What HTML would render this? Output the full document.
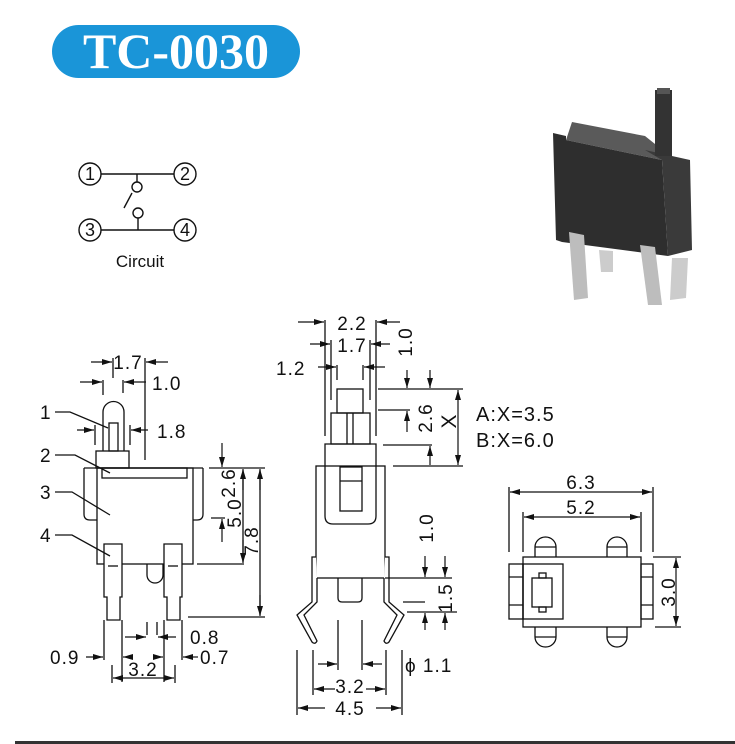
<!DOCTYPE html>
<html><head><meta charset="utf-8"><style>
html,body{margin:0;padding:0;background:#fff;}
svg{display:block;}
text{font-family:"Liberation Sans",sans-serif;fill:#111;}
</style></head><body>
<svg width="735" height="744" viewBox="0 0 735 744" xmlns="http://www.w3.org/2000/svg">
<defs>
<marker id="a" viewBox="0 0 10 6" refX="10" refY="3" markerWidth="10" markerHeight="6" orient="auto" markerUnits="userSpaceOnUse"><path d="M0,0 L10,3 L0,6 z" fill="#111"/></marker>
</defs>
<!-- header -->
<rect x="52" y="25" width="248" height="53" rx="26.5" fill="#1a95d8"/>
<text x="176" y="68" text-anchor="middle" style="font-family:'Liberation Serif',serif;font-weight:bold;font-size:50px;fill:#fff">TC-0030</text>

<!-- circuit -->
<g stroke="#111" stroke-width="1.4" fill="none">
<circle cx="90" cy="174" r="11"/><circle cx="185" cy="174" r="11"/>
<circle cx="90" cy="230" r="11"/><circle cx="185" cy="230" r="11"/>
<line x1="101" y1="174" x2="174" y2="174"/><line x1="101" y1="230" x2="174" y2="230"/>
<line x1="137" y1="174" x2="137" y2="182"/><circle cx="137" cy="187" r="5"/>
<line x1="132" y1="193" x2="124" y2="208"/>
<circle cx="138" cy="213" r="5"/><line x1="138" y1="218" x2="138" y2="230"/>
</g>
<g font-size="18" text-anchor="middle">
<text x="90" y="180">1</text><text x="185" y="180">2</text><text x="90" y="236">3</text><text x="185" y="236">4</text>
</g>
<text x="140" y="267" font-size="17" text-anchor="middle">Circuit</text>

<!-- photo -->
<polygon points="572,122 645,136 660,148 662,160 566,140" fill="#5a5a5a"/>
<polygon points="553,133 566,136 566,140 662,160 668,256 562,242 556,240" fill="#2e2e2e"/>
<polygon points="645,150 690,160 692,250 668,256 662,160" fill="#3a3a3a"/>
<rect x="655" y="90" width="17" height="66" fill="#333"/>
<rect x="657" y="88" width="13" height="6" fill="#555"/>
<polygon points="569,232 584,235 588,298 574,300" fill="#bdbdbd"/>
<polygon points="599,250 613,251 613,272 601,272" fill="#ccc"/>
<polygon points="640,245 655,247 662,305 648,305" fill="#bdbdbd"/>
<polygon points="672,258 688,258 686,298 670,300" fill="#ccc"/>

<g stroke="#111" stroke-width="1.3" fill="none">
<!-- LEFT VIEW -->
<path d="M84,468 H203 M84,468 V514 Q84,520 90,520 H97 M203,468 V514 Q203,520 197,520 H193"/>
<rect x="97" y="468" width="96" height="96"/>
<rect x="102" y="468" width="85" height="10"/>
<rect x="96" y="451" width="33" height="17"/>
<path d="M103,451 V412 A10.5,10.5 0 0 1 124,412 V451"/>
<rect x="109" y="423" width="9" height="28"/>
<path d="M104,544 H122 V597 H120 V620 H107 V597 H104 Z" fill="#fff"/>
<path d="M164,544 H182 V597 H180 V620 H167 V597 H164 Z" fill="#fff"/>
<line x1="108" y1="566" x2="118" y2="566"/><line x1="168" y1="566" x2="178" y2="566"/>
<path d="M147,564 V575 A8,8 0 0 0 163,575 V564"/>
<path d="M55,412 H70 L108,428 M55,455 H75 L110,473 M55,492 H72 L110,515 M55,535 H72 L110,556"/>
<path d="M209,468 H265 M197,564 H244 M188,617 H265 M211,518 H225"/>
<line x1="260" y1="470" x2="260" y2="615"/>
<line x1="243" y1="470" x2="243" y2="562"/>
<path d="M113,358 V378 M145,358 V460 M103,380 V395 M123,380 V393 M95,425 V445 M130,425 V445"/>
<path d="M104,620 V660 M122,620 V682 M164,620 V682 M182,620 V660 M147,622 V635 M157,622 V635"/>
<path d="M112,665 V683 M175,665 V683"/>
<!-- MIDDLE VIEW -->
<rect x="337" y="389" width="26" height="24"/>
<rect x="331" y="413" width="39" height="31"/>
<path d="M347,413 V444 M353,413 V444"/>
<path d="M325,444 H376 V516 Q376,524 368,524 H333 Q325,524 325,516 Z"/>
<rect x="316" y="466" width="69" height="112"/>
<rect x="340" y="467" width="22" height="44"/><line x1="340" y1="481" x2="362" y2="481"/>
<path d="M338,578 V598 Q338,602 342,602 H358 Q362,602 362,598 V578"/>
<path d="M316,557 H312 V602 L297,615 L312,642 Q315,645 317,641 L304,615 L317,602 V578" fill="#fff"/>
<path d="M385,557 H389 V602 L404,615 L389,642 Q386,645 384,641 L397,615 L384,602 V578" fill="#fff"/>
<path d="M325,320 V436 M376,320 V436 M331,340 V400 M370,340 V400 M337,365 V380 M363,365 V380"/>
<path d="M378,389 H463 M378,410 H410 M383,445 H432 M393,466 H463"/>
<path d="M385,578 H452 M403,602 H425 M407,612 H457"/>
<path d="M297,650 V715 M402,650 V715 M313,650 V695 M386,650 V695 M338,620 V670 M362,620 V670"/>
<!-- RIGHT VIEW -->
<path d="M535,557 V547 A10.5,10 0 0 1 556,547 V557 M535,547 H556 M607,557 V547 A10,10 0 0 1 627,547 V557 M607,547 H627"/>
<path d="M535,627 V637 A10.5,10 0 0 0 556,637 V627 M535,637 H556 M607,627 V637 A10,10 0 0 0 627,637 V627 M607,637 H627"/>
<rect x="523" y="557" width="118" height="70"/>
<rect x="509" y="564" width="14" height="55"/><path d="M509,577 H523 M509,605 H523"/>
<rect x="641" y="564" width="12" height="55"/><path d="M641,577 H653 M641,605 H653"/>
<rect x="523" y="564" width="40" height="55"/>
<rect x="532" y="578" width="20" height="29"/>
<rect x="539" y="573" width="7" height="5"/><rect x="539" y="607" width="7" height="5"/>
<path d="M509,487 V552 M653,487 V552 M523,512 V552 M641,512 V552 M653,557 H681 M655,627 H681"/>
</g>

<g stroke="#111" stroke-width="1.2" marker-end="url(#a)">
<line x1="260" y1="490" x2="260" y2="469"/><line x1="260" y1="595" x2="260" y2="616"/>
<line x1="243" y1="490" x2="243" y2="469"/><line x1="243" y1="540" x2="243" y2="563"/>
<line x1="222" y1="443" x2="222" y2="467"/><line x1="222" y1="542" x2="222" y2="519"/>
<line x1="91" y1="362" x2="112" y2="362"/><line x1="168" y1="362" x2="146" y2="362"/>
<line x1="80" y1="382" x2="102" y2="382"/><line x1="146" y1="382" x2="124" y2="382"/>
<line x1="77" y1="430" x2="94" y2="430"/><line x1="148" y1="430" x2="131" y2="430"/>
<line x1="125" y1="637" x2="146" y2="637"/><line x1="176" y1="637" x2="158" y2="637"/>
<line x1="86" y1="657" x2="103" y2="657"/><line x1="198" y1="657" x2="183" y2="657"/>
<line x1="143" y1="678" x2="113" y2="678"/><line x1="143" y1="678" x2="174" y2="678"/>
<line x1="130" y1="657" x2="123" y2="657"/><line x1="155" y1="657" x2="163" y2="657"/>
<line x1="298" y1="322" x2="324" y2="322"/><line x1="400" y1="322" x2="377" y2="322"/>
<line x1="310" y1="344" x2="330" y2="344"/><line x1="390" y1="344" x2="371" y2="344"/>
<line x1="318" y1="367" x2="336" y2="367"/><line x1="385" y1="367" x2="364" y2="367"/>
<line x1="407" y1="370" x2="407" y2="388"/><line x1="407" y1="432" x2="407" y2="411"/>
<line x1="430" y1="370" x2="430" y2="388"/><line x1="430" y1="465" x2="430" y2="446"/>
<line x1="458" y1="428" x2="458" y2="390"/><line x1="458" y1="428" x2="458" y2="465"/>
<line x1="425" y1="556" x2="425" y2="577"/><line x1="425" y1="630" x2="425" y2="613"/>
<line x1="445" y1="556" x2="445" y2="577"/><line x1="445" y1="630" x2="445" y2="613"/>
<line x1="318" y1="664" x2="337" y2="664"/><line x1="382" y1="664" x2="363" y2="664"/>
<line x1="335" y1="689" x2="314" y2="689"/><line x1="366" y1="689" x2="385" y2="689"/>
<line x1="325" y1="708" x2="298" y2="708"/><line x1="376" y1="708" x2="401" y2="708"/>
<line x1="581" y1="492" x2="510" y2="492"/><line x1="581" y1="492" x2="652" y2="492"/>
<line x1="582" y1="517" x2="524" y2="517"/><line x1="582" y1="517" x2="640" y2="517"/>
<line x1="676" y1="592" x2="676" y2="558"/><line x1="676" y1="592" x2="676" y2="626"/>
</g>

<g font-size="19" letter-spacing="1">
<text x="128" y="369" text-anchor="middle">1.7</text>
<text x="152" y="390">1.0</text>
<text x="157" y="438">1.8</text>
<text x="40" y="419">1</text><text x="40" y="462">2</text><text x="40" y="499">3</text><text x="40" y="542">4</text>
<text x="190" y="644">0.8</text>
<text x="50" y="664">0.9</text>
<text x="200" y="664">0.7</text>
<text x="143" y="676" text-anchor="middle">3.2</text>
<text transform="translate(235,483) rotate(-90)" text-anchor="middle">2.6</text>
<text transform="translate(241,513) rotate(-90)" text-anchor="middle">5.0</text>
<text transform="translate(258,541) rotate(-90)" text-anchor="middle">7.8</text>
<text x="352" y="330" text-anchor="middle">2.2</text>
<text x="352" y="352" text-anchor="middle">1.7</text>
<text x="276" y="375">1.2</text>
<text transform="translate(412,342) rotate(-90)" text-anchor="middle">1.0</text>
<text transform="translate(432,418) rotate(-90)" text-anchor="middle">2.6</text>
<text transform="translate(456,421) rotate(-90)" text-anchor="middle" font-size="21">X</text>
<text x="476" y="421" font-size="20">A:X=3.5</text>
<text x="476" y="447" font-size="20">B:X=6.0</text>
<text transform="translate(433,528) rotate(-90)" text-anchor="middle">1.0</text>
<text transform="translate(452,598) rotate(-90)" text-anchor="middle">1.5</text>
<text x="405" y="672">ϕ 1.1</text>
<text x="350" y="693" text-anchor="middle">3.2</text>
<text x="350" y="715" text-anchor="middle">4.5</text>
<text x="581" y="489" text-anchor="middle">6.3</text>
<text x="581" y="514" text-anchor="middle">5.2</text>
<text transform="translate(675,592) rotate(-90)" text-anchor="middle">3.0</text>
</g>

<rect x="15" y="741" width="720" height="3" fill="#333"/>
</svg>
</body></html>
